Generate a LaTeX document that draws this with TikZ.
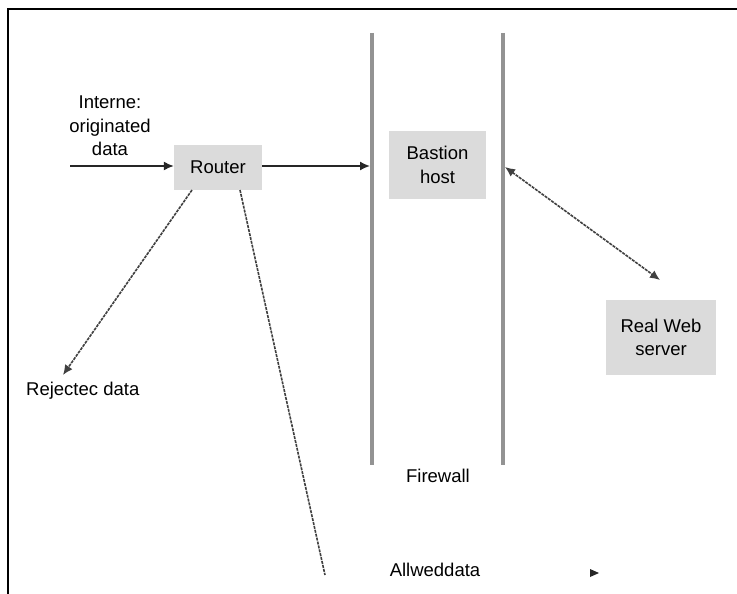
\documentclass[tikz,border=0pt]{standalone}
\usepackage{fontspec}
\setmainfont{Liberation Sans}
\usetikzlibrary{arrows.meta}
\begin{document}
\begin{tikzpicture}[x=1pt,y=-1pt,
  box/.style={fill=gray!28,draw=none,inner sep=0pt,align=center,font=\fontsize{18.5}{23.5}\selectfont},
  lbl/.style={inner sep=0pt,align=center,font=\fontsize{18.5}{23.5}\selectfont},
  conn/.style={line width=1.6pt,black!85},
  dconn/.style={line width=1.6pt,black!75,dash pattern=on 3pt off 1pt},
  tip/.style={-{Latex[length=10pt,width=9pt]}},
  wall/.style={line width=4pt,gray!85}]
\useasboundingbox (0,0) rectangle (737,594);
\fill[white] (0,0) rectangle (737,594);
% frame
\draw[line width=2pt] (8,594) -- (8,9.5) -- (737,9.5);
% firewall walls
\coordinate (w1t) at (372,33); \coordinate (w1b) at (372,465);
\coordinate (w2t) at (503,33); \coordinate (w2b) at (503,465);
\draw[wall] (w1t) -- (w1b);
\draw[wall] (w2t) -- (w2b);
% nodes
\node[box,minimum width=88pt,minimum height=45pt] (router) at (218,167.5) {Router};
\node[box,minimum width=97pt,minimum height=68pt] (bastion) at (437.5,165) {Bastion\\host};
\node[box,minimum width=110pt,minimum height=75pt] (web) at (661,337.5) {Real Web\\server};
\node[lbl] (inet) at (110,126) {Interne:\\originated\\data};
\node[lbl,anchor=west] (rej) at (26,391) {Rejectec data};
\node[lbl] (fw) at (438,476) {Firewall};
\node[lbl] (allow) at (435,570) {Allweddata};
% connectors
\coordinate (src) at (70,166);
\coordinate (fwin) at (370,166);
\coordinate (rejtip) at (63,375);
\coordinate (rstart1) at (192,190);
\coordinate (rstart2) at (240,190);
\coordinate (allowend) at (325,575);
\coordinate (bh) at (505,167);
\coordinate (wh) at (660,280);
\coordinate (lt2) at (599,573);
\draw[conn,tip] (src) -- (src -| router.west);
\draw[conn,tip] (router.east |- src) -- (fwin);
\draw[dconn,tip] (rstart1) -- (rejtip);
\draw[dconn] (rstart2) -- (allowend);
\draw[dconn,{Latex[length=10pt,width=9pt]}-{Latex[length=10pt,width=9pt]}] (bh) -- (wh);
\fill[black!85] (lt2) -- ++(-9,-4) -- ++(0,8) -- cycle;
\end{tikzpicture}
\end{document}
